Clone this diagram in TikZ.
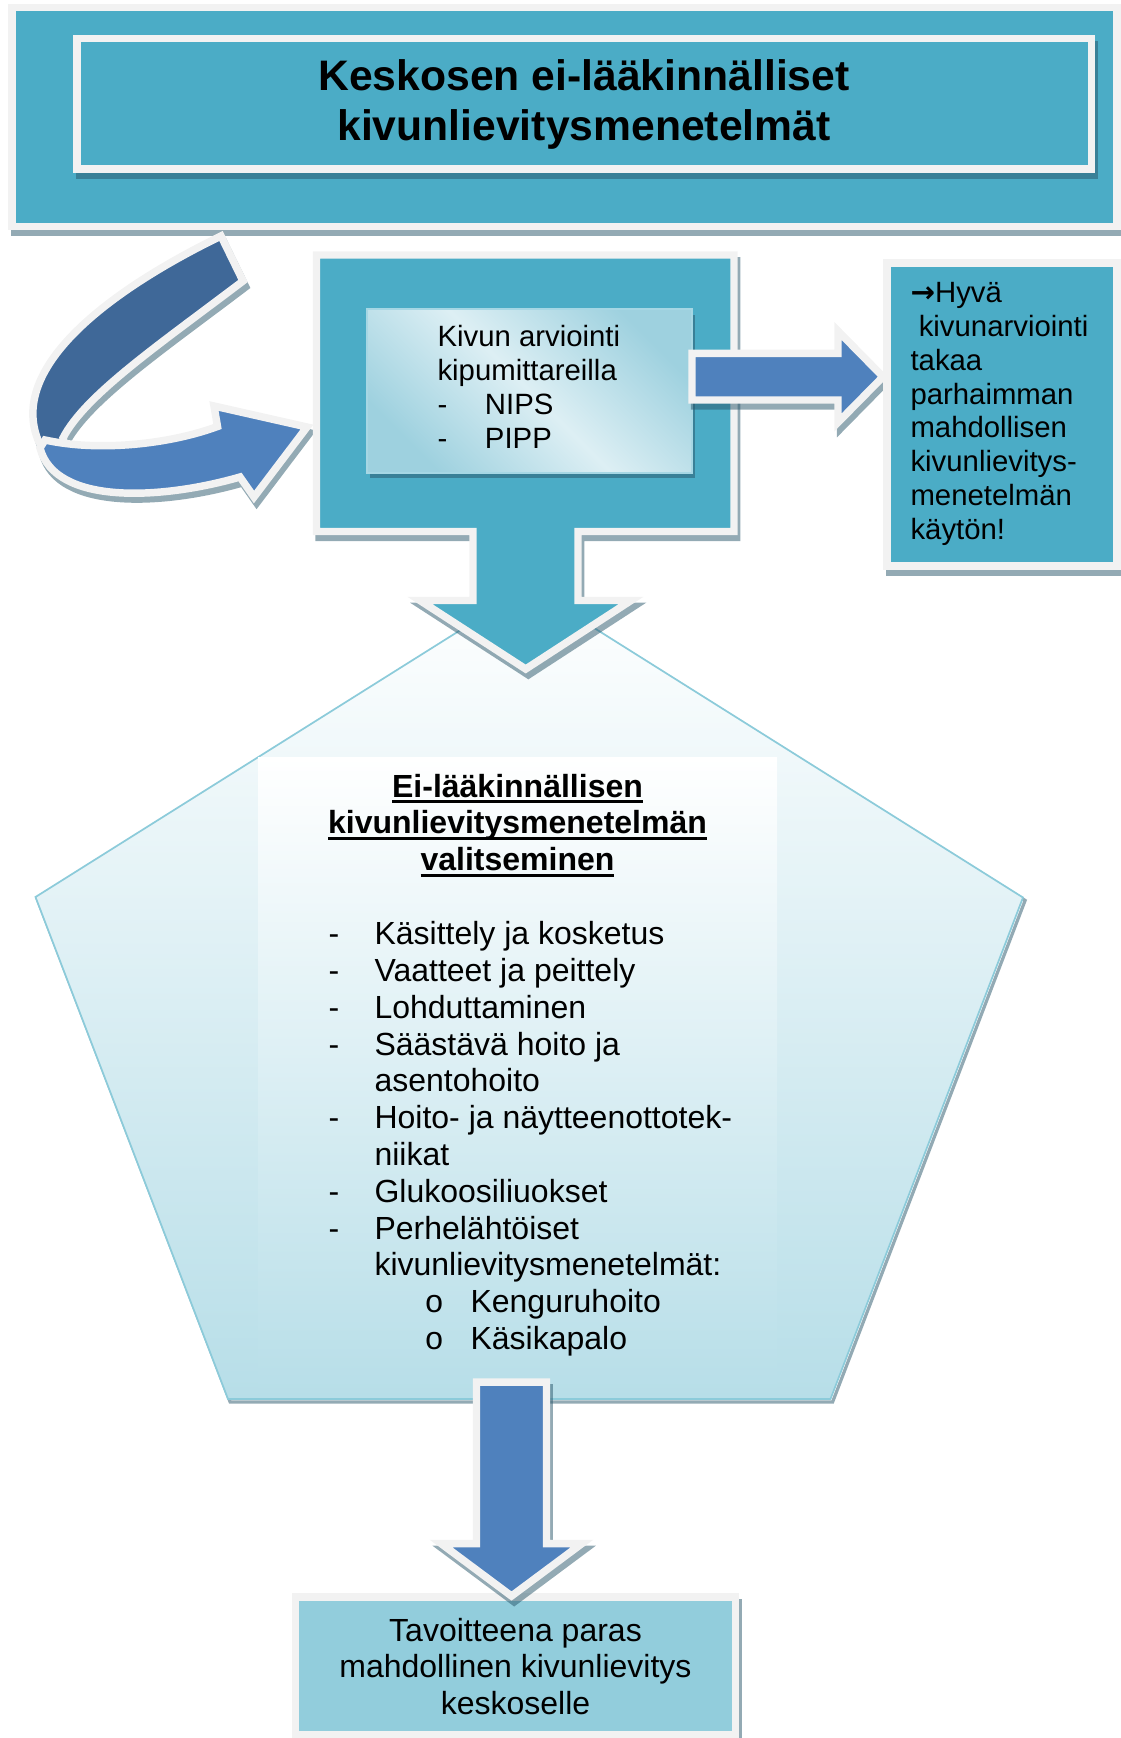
\documentclass[tikz,border=0pt]{standalone}
\usepackage{fontspec}
\setmainfont{Liberation Sans}
\newfontfamily\ringfont{Liberation Mono}
\newfontfamily\arrowfont{DejaVu Sans}
\definecolor{tealfill}{RGB}{75,172,198}
\definecolor{rimgray}{RGB}{242,242,242}
\definecolor{arrowblue}{RGB}{79,129,189}
\definecolor{arrowdark}{RGB}{63,104,152}
\definecolor{paleline}{RGB}{140,203,218}
\definecolor{palefill}{RGB}{183,222,232}
\definecolor{goalfill}{RGB}{146,205,220}
\definecolor{shadecol}{RGB}{40,85,105}
\definecolor{gradlight}{RGB}{221,239,244}
\definecolor{graddark}{RGB}{158,209,223}
\definecolor{gradrim}{RGB}{166,215,228}
\newcommand{\dashitem}[1]{\makebox[17.25pt][l]{-}#1}
\newcommand{\contline}[1]{\hspace*{17.25pt}#1}
\newcommand{\ringitem}[1]{\hspace*{36pt}\makebox[17.25pt][l]{\ringfont o}#1}
\newcommand{\ulbold}[1]{\setbox0=\hbox{#1}\rlap{\rule[-2.4pt]{\wd0}{1.1pt}}\box0}
\tikzset{
  rim/.style={draw=rimgray, line width=2.8pt, line join=miter},
  softshadow/.style={preaction={draw=shadecol, draw opacity=.5, line width=2.8pt, line join=miter,
      transform canvas={shift={(1pt,-2.2pt)}}}},
  tealpanel/.style={rim, softshadow, fill=tealfill},
  bluearrow/.style={rim, softshadow, fill=arrowblue},
  titletext/.style={anchor=base, align=center, inner sep=0pt, font=\fontsize{16}{18.4}\selectfont\bfseries},
  smalltext/.style={anchor=base west, align=left, inner sep=0pt, font=\fontsize{11}{12.65}\selectfont},
  bodytext/.style={anchor=base, align=center, inner sep=0pt, font=\fontsize{12}{13.8}\selectfont},
  listtext/.style={anchor=base west, align=left, inner sep=0pt, font=\fontsize{12}{13.8}\selectfont}
}
\begin{document}
\begin{tikzpicture}[x=0.375pt, y=-0.375pt]
\useasboundingbox (0,0) rectangle (1121,1738);

% heading
\path[tealpanel] (12,7.5) rectangle (1117,226.5);
\path[tealpanel] (77,38.5) rectangle (1091.5,169);
\node[titletext] (title) at (584,140) {Keskosen ei-lääkinnälliset\\kivunlievitysmenetelmät};

% loop arrow back to the assessment
\path[rim, softshadow, fill=arrowdark] (221,236) .. controls (100,295) and (10,370) .. (38,440)
  -- (50,462) -- (70,462) -- (63,438) .. controls (85,395) and (160,344) .. (243,281) -- cycle;
\path[bluearrow] (45,440) .. controls (100,452) and (170,444) .. (217.5,426.5) -- (214,406)
  -- (307,427) -- (254,497) -- (240,477) .. controls (160,500) and (55,505) .. (40,448) -- cycle;

% choice pentagon
\shadedraw[top color=white, bottom color=palefill, draw=paleline, line width=.65pt,
  preaction={draw=shadecol, draw opacity=.5, line width=1.2pt, transform canvas={shift={(.8pt,-1.1pt)}}}]
  (529,587) -- (1023,897.5) -- (830.5,1399) -- (228,1399) -- (35.5,897) -- cycle;
\shade[top color=white, bottom color=palefill] (258,757) rectangle (777,1397);
\node[bodytext, font=\fontsize{12}{13.8}\selectfont\bfseries] (choice) at (517.5,870.6)
  {\ulbold{Ei-lääkinnällisen}\\\ulbold{kivunlievitysmenetelmän}\\\ulbold{valitseminen}};
\node[listtext] (methods) at (328,1349.5) {%
  \dashitem{Käsittely ja kosketus}\\
  \dashitem{Vaatteet ja peittely}\\
  \dashitem{Lohduttaminen}\\
  \dashitem{Säästävä hoito ja}\\
  \contline{asentohoito}\\
  \dashitem{Hoito- ja näytteenottotek-}\\
  \contline{niikat}\\
  \dashitem{Glukoosiliuokset}\\
  \dashitem{Perhelähtöiset}\\
  \contline{kivunlievitysmenetelmät:}\\
  \ringitem{Kenguruhoito}\\
  \ringitem{Käsikapalo}};

% assessment callout
\path[tealpanel] (316.5,255) -- (734,255) -- (734,531.5) -- (578,531.5) -- (578,600.5) -- (631,600.5)
  -- (525.7,669) -- (420,600.5) -- (473,600.5) -- (473,531.5) -- (316.5,531.5) -- cycle;
\shadedraw[left color=graddark, right color=graddark, middle color=gradlight, shading angle=-45,
  draw=gradrim, line width=.75pt,
  preaction={fill=shadecol, fill opacity=.5, transform canvas={shift={(1pt,-2.2pt)}}}]
  (367,309) rectangle (692,472.5);
\node[smalltext] (scales) at (437,448)
  {Kivun arviointi\\kipumittareilla\\\makebox[17.8pt][l]{-}NIPS\\\makebox[17.8pt][l]{-}PIPP};

% note on the right
\path[bluearrow] (692,353.3) -- (838,353.3) -- (838,331) -- (883,376.7) -- (838,422.4) -- (838,400)
  -- (692,400) -- cycle;
\path[tealpanel] (887,263) rectangle (1117,566);
\node[smalltext] (note) at (910,539)
  {{\arrowfont\bfseries →}Hyvä\\\hspace*{3.1pt}kivunarviointi\\takaa\\parhaimman\\mahdollisen\\kivunlievitys-\\menetelmän\\käytön!};

% goal
\path[rim, softshadow, fill=goalfill] (295.7,1597) rectangle (735.4,1734.5);
\path[bluearrow] (476.5,1382) -- (546.5,1382) -- (546.5,1543.5) -- (582,1543.5) -- (511.5,1596)
  -- (441,1543.5) -- (476.5,1543.5) -- cycle;
\node[bodytext] (goal) at (515.5,1714.6) {Tavoitteena paras\\mahdollinen kivunlievitys\\keskoselle};
\end{tikzpicture}
\end{document}
